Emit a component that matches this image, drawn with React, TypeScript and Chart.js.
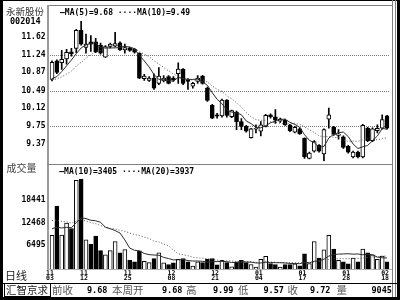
import React, { useEffect, useRef } from "react";
import { Chart, registerables } from "chart.js";

Chart.register(...registerables);

// ---------- data ----------
const opens = [10.74, 11.13, 11.09, 11.17, 11.32, 11.39, 11.77, 11.41, 11.53, 11.53,
  11.46, 11.21, 11.43, 11.44, 11.51, 11.36, 11.39, 11.37, 11.29, 10.76,
  10.72, 10.77, 10.66, 10.71, 10.80, 10.77, 10.86, 10.96, 10.73, 10.60,
  10.70, 10.81, 10.56, 10.20, 10.00, 9.98, 10.31, 9.96, 10.06, 9.86,
  9.76, 9.52, 9.70, 9.66, 9.76, 10.00, 9.96, 9.87, 9.89, 9.78,
  9.64, 9.71, 9.51, 9.09, 9.24, 9.36, 9.18, 9.91, 9.74, 9.57,
  9.54, 9.34, 9.12, 9.22, 9.12, 9.72, 9.46, 9.67, 9.72, 9.98];
const highs = [11.13, 11.15, 11.35, 11.37, 11.39, 11.79, 11.96, 11.69, 11.66, 11.60,
  11.50, 11.45, 11.50, 11.73, 11.53, 11.48, 11.42, 11.39, 11.30, 10.85,
  10.80, 10.86, 10.99, 10.82, 10.82, 10.80, 11.09, 10.97, 10.76, 10.68,
  10.82, 10.83, 10.58, 10.22, 10.03, 10.33, 10.32, 10.10, 10.08, 9.92,
  9.78, 9.72, 9.79, 9.86, 10.01, 10.02, 10.11, 9.93, 9.91, 9.80,
  9.76, 9.73, 9.52, 9.22, 9.46, 9.38, 9.71, 10.14, 9.76, 9.69,
  9.56, 9.36, 9.24, 9.24, 9.80, 9.74, 9.73, 9.79, 10.00, 9.99];
const lows = [10.71, 10.86, 10.95, 11.06, 11.23, 11.30, 11.46, 11.29, 11.33, 11.30,
  11.27, 11.20, 11.40, 11.42, 11.35, 11.29, 11.33, 11.29, 10.76, 10.72,
  10.70, 10.53, 10.63, 10.69, 10.65, 10.70, 10.66, 10.63, 10.53, 10.56,
  10.66, 10.64, 10.28, 9.92, 9.93, 9.95, 9.95, 9.94, 9.69, 9.69,
  9.64, 9.51, 9.62, 9.56, 9.75, 9.93, 9.82, 9.84, 9.78, 9.65,
  9.62, 9.59, 9.09, 9.08, 9.22, 9.22, 9.03, 9.72, 9.57, 9.49,
  9.30, 9.20, 9.10, 9.10, 9.10, 9.44, 9.44, 9.62, 9.70, 9.70];
const closes = [11.10, 10.89, 11.16, 11.31, 11.28, 11.77, 11.48, 11.48, 11.48, 11.32,
  11.29, 11.43, 11.48, 11.49, 11.36, 11.41, 11.35, 11.31, 10.77, 10.81,
  10.77, 10.56, 10.81, 10.77, 10.66, 10.73, 10.96, 10.66, 10.70, 10.66,
  10.77, 10.66, 10.30, 9.93, 9.97, 10.31, 9.99, 10.09, 9.86, 9.76,
  9.66, 9.71, 9.72, 9.79, 9.99, 9.96, 9.89, 9.91, 9.79, 9.67,
  9.74, 9.60, 9.12, 9.20, 9.44, 9.24, 9.69, 10.00, 9.59, 9.60,
  9.32, 9.22, 9.22, 9.12, 9.78, 9.46, 9.71, 9.72, 9.90, 9.72];
const volumes = [9263, 17140, 9350, 12552, 11080, 23979, 24414, 8051, 6839, 9090,
  5194, 4069, 5194, 7618, 4588, 5454, 2597, 2164, 5107, 2337,
  1991, 3030, 4588, 1904, 1471, 1904, 2857, 3030, 2164, 1039,
  2164, 1991, 2857, 3030, 1385, 2597, 1991, 866, 2164, 2597,
  1991, 1471, 779, 2857, 3636, 1731, 1471, 779, 1471, 1471,
  1645, 1125, 4328, 1731, 7618, 3203, 5367, 9263, 5627, 2597,
  2164, 1645, 3203, 2164, 5627, 4588, 4069, 2857, 3722, 2164];
// estimated sessions before the first visible bar (only feed the averages' start)
const priorCloses = [10.78, 10.70, 10.74, 10.66, 10.72, 10.69, 10.63, 10.71, 10.67];
const priorVolumes = [14200, 16800, 15100, 17500, 13900, 15800, 16300, 14400, 15600, 14900,
  12800, 11500, 10900, 12100, 10400, 11800, 9800, 11300, 10500];

const priceTicks = [9.37, 9.75, 10.12, 10.49, 10.87, 11.24, 11.62];
const priceGridLevels = [9.75, 10.49, 11.24];
const priceRange = [9.03, 12.22];
const volumeTicks = [6495, 12468, 18441];
const volumeRange = [0, 24414];
const xTickIndex = [0, 7, 16, 25, 34, 43, 52, 61, 69];
const xTickLabels = [["11", "03"], ["11", "12"], ["11", "25"], ["12", "08"], ["12", "21"],
  ["01", "04"], ["01", "17"], ["01", "28"], ["02", "18"]];
const priceLegend = "—MA(5)=9.68 ····MA(10)=9.49";
const volumeLegend = "—MA(10)=3405 ····MA(20)=3937";
const stockName = "永新股份";
const stockCode = "002014";
const panelTitles = ["成交量", "日线"];
const statusBoxText = "汇智京求";
const statusItems: [string, number, boolean][] = [
  ["前收", 52, false], ["9.68", 87, true], ["本周开", 112, false], ["9.68", 162, true],
  ["高", 186, false], ["9.99", 213, true], ["低", 238, false], ["9.57", 263.5, true],
  ["收", 287.5, false], ["9.72", 310, true], ["量", 336.5, false], ["9045", 371.5, true],
];

// ---------- helpers ----------
const MONO = '"DejaVu Sans Mono", "Liberation Mono", monospace';
const CJK = '"Noto Sans CJK SC", "Noto Sans", sans-serif';
const AXIS_W = 49.57;
const RIGHT_PAD = 10.5;

function movingAverage(values: number[], prior: number[], n: number): number[] {
  const all = prior.concat(values);
  return values.map((_, i) => {
    const end = prior.length + i + 1;
    const start = Math.max(0, end - n);
    const s = all.slice(start, end);
    return s.reduce((a, b) => a + b, 0) / s.length;
  });
}

const Line = ({ l, t, w, h, c }: { l: number; t: number; w: number; h: number; c: string }) => (
  <div style={{ position: "absolute", left: l, top: t, width: w, height: h, background: c }} />
);

const Txt = ({ s, l, cy, size, family, color, bold }: { s: string; l: number; cy: number; size: number; family: string; color: string; bold?: boolean }) => (
  <div style={{ position: "absolute", left: l, top: cy - size / 2, fontSize: size, lineHeight: size + "px", fontFamily: family, color, fontWeight: bold ? 700 : 400, whiteSpace: "pre" }}>{s}</div>
);

export default function App() {
  const priceRef = useRef<HTMLCanvasElement | null>(null);
  const volRef = useRef<HTMLCanvasElement | null>(null);

  useEffect(() => {
    const n = closes.length;
    const labels = Array.from({ length: n }, (_, i) => {
      const k = xTickIndex.indexOf(i);
      return k >= 0 ? xTickLabels[k] : "";
    });
    const isUp = closes.map((c, i) => c >= opens[i]);
    const ma5 = movingAverage(closes, priorCloses, 5);
    const ma10 = movingAverage(closes, priorCloses, 10);
    const vma10 = movingAverage(volumes, priorVolumes, 10);
    const vma20 = movingAverage(volumes, priorVolumes, 20);

    const price = new Chart(priceRef.current as HTMLCanvasElement, {
      type: "bar",
      data: {
        labels,
        datasets: [
          { type: "line", data: ma5, borderColor: "#2a2a2a", borderWidth: 1, pointRadius: 0, order: 0 } as any,
          { type: "line", data: ma10, borderColor: "#555", borderWidth: 1, borderDash: [1, 2], pointRadius: 0, order: 0 } as any,
          {
            type: "bar", data: opens.map((o, i) => [o, closes[i]]),
            backgroundColor: isUp.map((u) => (u ? "#ffffff" : "#000000")),
            borderColor: "#000", borderWidth: 1, borderSkipped: false, barThickness: 4, grouped: false, order: 1,
          } as any,
          {
            type: "bar", data: lows.map((l, i) => [l, highs[i]]),
            backgroundColor: "#000", borderWidth: 0, barThickness: 1, grouped: false, order: 2,
          } as any,
        ],
      },
      options: {
        responsive: false, animation: false, devicePixelRatio: 1, events: [],
        layout: { padding: { top: 5, bottom: 5, left: 0, right: RIGHT_PAD } },
        plugins: { legend: { display: false }, tooltip: { enabled: false } },
        scales: {
          x: { display: false, offset: true },
          y: {
            min: priceRange[0], max: priceRange[1],
            afterFit: (s: any) => { s.width = AXIS_W; },
            afterBuildTicks: (s: any) => { s.ticks = priceTicks.map((v) => ({ value: v })); },
            ticks: {
              callback: (v: any) => Number(v).toFixed(2),
              font: { family: MONO, size: 8, weight: "bold" }, color: "#000", padding: 4, labelOffset: -1,
            },
            grid: {
              color: (ctx: any) => (ctx.tick && priceGridLevels.includes(ctx.tick.value) ? "#7a7a7a" : "rgba(0,0,0,0)"),
              lineWidth: 1, drawTicks: false,
            },
            border: { display: false, dash: [1, 1] },
          } as any,
        },
      } as any,
    });

    const vol = new Chart(volRef.current as HTMLCanvasElement, {
      type: "bar",
      data: {
        labels,
        datasets: [
          { type: "line", data: vma10, borderColor: "#2a2a2a", borderWidth: 1, pointRadius: 0, order: 0 } as any,
          { type: "line", data: vma20, borderColor: "#555", borderWidth: 1, borderDash: [1, 2], pointRadius: 0, order: 0 } as any,
          {
            type: "bar", data: volumes,
            backgroundColor: isUp.map((u) => (u ? "#ffffff" : "#000000")),
            borderColor: "#000", borderWidth: 1, borderSkipped: false, barThickness: 4, grouped: false, order: 1,
          } as any,
        ],
      },
      options: {
        responsive: false, animation: false, devicePixelRatio: 1, events: [],
        layout: { padding: { top: 6, bottom: 0, left: 0, right: RIGHT_PAD } },
        plugins: { legend: { display: false }, tooltip: { enabled: false } },
        scales: {
          x: {
            offset: true,
            afterFit: (s: any) => { s.height = 14; },
            grid: { display: false, drawTicks: false },
            border: { display: false },
            ticks: {
              autoSkip: false, maxRotation: 0, minRotation: 0, padding: 0.5, labelOffset: -2,
              font: { family: MONO, size: 6.5, weight: "bold", lineHeight: "5px" }, color: "#000",
            },
          } as any,
          y: {
            min: volumeRange[0], max: volumeRange[1],
            afterFit: (s: any) => { s.width = AXIS_W; },
            afterBuildTicks: (s: any) => { s.ticks = volumeTicks.map((v) => ({ value: v })); },
            ticks: {
              callback: (v: any) => String(v),
              font: { family: MONO, size: 8, weight: "bold" }, color: "#000", padding: 4, labelOffset: -1,
            },
            grid: { display: false, drawTicks: false },
            border: { display: false },
          } as any,
        },
      } as any,
    });

    return () => { price.destroy(); vol.destroy(); };
  }, []);

  return (
    <div style={{ position: "fixed", left: 0, top: 0, width: 400, height: 300, background: "#fff", overflow: "hidden" }}>
      <canvas ref={priceRef} width={400} height={170} style={{ position: "absolute", left: 0, top: 0, width: 400, height: 170 }} />
      <canvas ref={volRef} width={400} height={114} style={{ position: "absolute", left: 0, top: 170, width: 400, height: 114 }} />

      {/* frame */}
      <Line l={0} t={0} w={400} h={1} c="#000" />
      <Line l={0} t={0} w={3} h={300} c="#000" />
      <Line l={47} t={5} w={346} h={1} c="#808080" />
      <Line l={47} t={5} w={2} h={265} c="#9a9a9a" />
      <Line l={47} t={164} w={346} h={1} c="#808080" />
      <Line l={47} t={269} w={346} h={1} c="#b0b0b0" />
      <Line l={392} t={0} w={1} h={297} c="#808080" />
      <Line l={395} t={0} w={1} h={297} c="#808080" />
      <Line l={397} t={0} w={3} h={300} c="#000" />
      <Line l={0} t={283} w={397} h={1} c="#000" />
      <Line l={0} t={297} w={400} h={3} c="#000" />

      {/* header texts */}
      <Txt s={stockName} l={6} cy={11.3} size={9.5} family={CJK} color="#333" />
      <Txt s={stockCode} l={10} cy={21.7} size={8.5} family={MONO} color="#000" bold />
      <Txt s={priceLegend} l={60} cy={13.3} size={8} family={MONO} color="#000" bold />
      <Txt s={panelTitles[0]} l={6.5} cy={167.5} size={10} family={CJK} color="#444" />
      <Txt s={volumeLegend} l={59.3} cy={172} size={8} family={MONO} color="#000" bold />
      <Txt s={panelTitles[1]} l={5} cy={275.5} size={11} family={CJK} color="#222" />

      {/* status bar */}
      <div style={{ position: "absolute", left: 4, top: 283, width: 47, height: 14, border: "1px solid #000", boxSizing: "border-box" }} />
      <Txt s={statusBoxText} l={6} cy={290} size={10.5} family={CJK} color="#222" />
      {statusItems.map(([s, l, num], i) => (
        <Txt key={i} s={s} l={l} cy={290} size={num ? 8.5 : 10.5} family={num ? MONO : CJK} color={num ? "#000" : "#555"} bold={num} />
      ))}
    </div>
  );
}
